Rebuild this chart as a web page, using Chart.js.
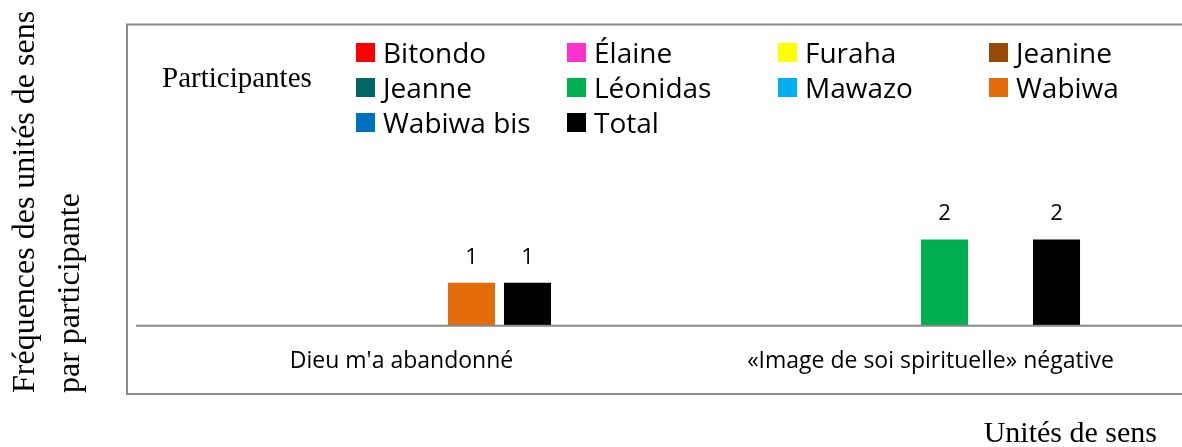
<!DOCTYPE html>
<html lang="fr">
<head>
<meta charset="utf-8">
<title>Fréquences des unités de sens par participante</title>
<script src="https://cdn.jsdelivr.net/npm/chart.js@4.4.1/dist/chart.umd.min.js"></script>
<style>
  html, body { margin: 0; padding: 0; background: #fff; overflow: hidden; }
  #wrap { position: relative; width: 1182px; height: 447px; overflow: hidden; }
  #chart { position: absolute; left: 0; top: 0; }
  #legendTitle {
    position: absolute; left: 162px; top: 63px;
    font: 29px "Liberation Serif", "Times New Roman", serif; line-height: 29px;
    color: #000; white-space: nowrap;
  }
  #legend {
    position: absolute; left: 356px; top: 35px; margin: 0; padding: 0; list-style: none;
    display: grid; grid-template-columns: repeat(4, 211px); grid-auto-rows: 35px;
  }
  #legend li {
    display: flex; align-items: center; white-space: nowrap; color: #000;
    font: 28px "Open Sans", sans-serif; line-height: 35px;
  }
  #legend .box { width: 19px; height: 19px; margin-right: 8px; flex: none; }
</style>
</head>
<body>
<div id="wrap">
  <canvas id="chart" width="1196" height="447"></canvas>
  <div id="legendTitle">Participantes</div>
  <ul id="legend"></ul>
</div>
<script>
const categories = ["Dieu m'a abandonné", '«Image de soi spirituelle» négative'];
const participants = ['Bitondo', 'Élaine', 'Furaha', 'Jeanine', 'Jeanne', 'Léonidas', 'Mawazo', 'Wabiwa', 'Wabiwa bis', 'Total'];
const colors = ['#FF0000', '#FF33CC', '#FFFF00', '#984807', '#006666', '#00B050', '#00B0F0', '#E46C0A', '#0070C0', '#000000'];

// une valeur par unité de sens (null = case vide)
const bitondo   = [null, null];
const elaine    = [null, null];
const furaha    = [null, null];
const jeanine   = [null, null];
const jeanne    = [null, null];
const leonidas  = [null, 2];
const mawazo    = [null, null];
const wabiwa    = [1, null];
const wabiwaBis = [null, null];
const total     = [1, 2];
const seriesValues = [bitondo, elaine, furaha, jeanine, jeanne, leonidas, mawazo, wabiwa, wabiwaBis, total];

const Y_MAX = 7;
const yTitle = ['Fréquences des unités de sens', 'par participante'];
const xTitle = 'Unités de sens';

const LINE = '#898989';
const SERIF = '"Liberation Serif", "Times New Roman", serif';
const SANS = '"Open Sans", sans-serif';

// Cadre gris autour du graphique + ligne de base
const frame = {
  id: 'frame',
  beforeDatasetsDraw(chart) {
    const { ctx, chartArea } = chart;
    const left = chartArea.left - 10;
    const top = chartArea.top + 1.5;
    const bottom = 394;
    ctx.save();
    ctx.strokeStyle = LINE;
    ctx.lineWidth = 2;
    ctx.beginPath();
    ctx.moveTo(chart.width + 5, top);
    ctx.lineTo(left, top);
    ctx.lineTo(left, bottom);
    ctx.lineTo(chart.width + 5, bottom);
    ctx.stroke();
    ctx.restore();
  },
  afterDatasetsDraw(chart) {
    const { ctx, chartArea, scales } = chart;
    const y0 = scales.y.getPixelForValue(0) - 0.3;
    ctx.save();
    ctx.strokeStyle = LINE;
    ctx.lineWidth = 2;
    ctx.beginPath();
    ctx.moveTo(chartArea.left - 1, y0);
    ctx.lineTo(chart.width, y0);
    ctx.stroke();
    ctx.restore();
  }
};

// Valeurs au-dessus des barres
const valueLabels = {
  id: 'valueLabels',
  afterDatasetsDraw(chart) {
    const ctx = chart.ctx;
    ctx.save();
    ctx.font = '22px ' + SANS;
    ctx.fillStyle = '#000';
    ctx.textAlign = 'center';
    ctx.textBaseline = 'alphabetic';
    chart.data.datasets.forEach((ds, i) => {
      chart.getDatasetMeta(i).data.forEach((bar, j) => {
        const v = ds.data[j];
        if (v === null || v === undefined) return;
        ctx.fillText(String(v), bar.x, bar.y - 19);
      });
    });
    ctx.restore();
  }
};

// Titres des axes (police serif comme dans l'original)
const axisTitles = {
  id: 'axisTitles',
  afterDraw(chart) {
    const ctx = chart.ctx;
    ctx.save();
    ctx.fillStyle = '#000';
    ctx.textBaseline = 'alphabetic';

    ctx.save();
    ctx.font = '32px ' + SERIF;
    ctx.translate(34, 393);
    ctx.rotate(-Math.PI / 2);
    ctx.textAlign = 'left';
    yTitle.forEach((line, i) => ctx.fillText(line, 0, i * 45));
    ctx.restore();

    ctx.font = '30px ' + SERIF;
    ctx.textAlign = 'right';
    ctx.fillText(xTitle, 1157, 442);
    ctx.restore();
  }
};

// Légende HTML en grille de 4 colonnes
const htmlLegend = {
  id: 'htmlLegend',
  afterUpdate(chart) {
    const ul = document.getElementById('legend');
    ul.innerHTML = '';
    chart.data.datasets.forEach(ds => {
      const li = document.createElement('li');
      const box = document.createElement('span');
      box.className = 'box';
      box.style.background = ds.backgroundColor;
      const txt = document.createElement('span');
      txt.textContent = ds.label;
      li.appendChild(box);
      li.appendChild(txt);
      ul.appendChild(li);
    });
  }
};

const datasets = participants.map((name, i) => ({
  label: name,
  data: seriesValues[i],
  backgroundColor: colors[i],
  borderWidth: 0,
  categoryPercentage: 0.5293,
  barPercentage: 1.68
}));

new Chart(document.getElementById('chart'), {
  type: 'bar',
  data: { labels: categories, datasets },
  options: {
    responsive: false,
    animation: false,
    layout: { padding: { left: 137, right: 1, top: 23, bottom: 0 } },
    plugins: {
      legend: { display: false },
      tooltip: { enabled: false }
    },
    scales: {
      x: {
        grid: { display: false, drawTicks: false },
        border: { display: false },
        ticks: {
          color: '#000',
          font: { family: 'Open Sans', size: 23 },
          padding: 22,
          maxRotation: 0,
          autoSkip: false
        },
        afterFit(scale) { scale.height = 121; }
      },
      y: { display: false, min: 0, max: Y_MAX }
    }
  },
  plugins: [frame, valueLabels, axisTitles, htmlLegend]
});
</script>
</body>
</html>
